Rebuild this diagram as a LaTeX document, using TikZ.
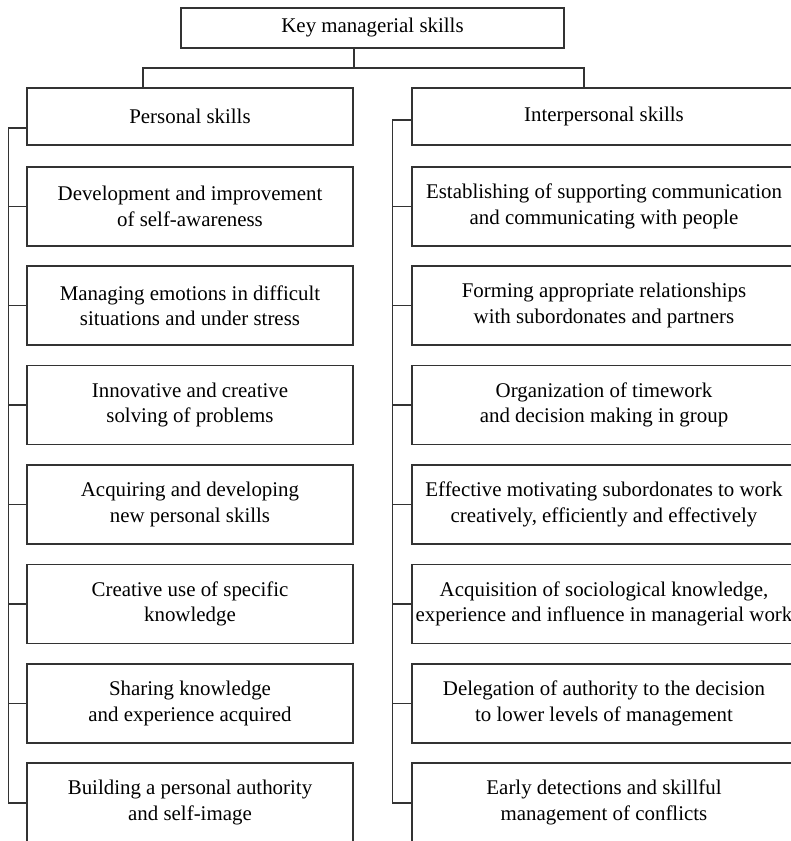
\documentclass[tikz,border=0pt]{standalone}
\usepackage{fontspec}
\setmainfont{Liberation Serif}
\begin{document}
\begin{tikzpicture}[x=1pt,y=-1pt,
  every node/.style={font=\fontsize{20.9}{25.5}\selectfont, text=black},
  box/.style={draw=black!80, line width=1.2pt, rectangle, align=center, inner sep=0pt},
  lbox/.style={box, minimum width=326pt, minimum height=79pt},
  rbox/.style={box, minimum width=384pt, minimum height=79pt},
  conn/.style={draw=black!80, line width=1.2pt}]
\useasboundingbox (0,0) rectangle (791,841);
\clip (0,0) rectangle (791,841);

\node[box, minimum width=383pt, minimum height=40pt] (top) at (372.5,28) {Key managerial skills};
\node[box, minimum width=326pt, minimum height=57pt] (ps) at (190,116.5) {Personal skills};
\node[box, minimum width=384pt, minimum height=57pt] (ip) at (604,116.5) {Interpersonal skills};

\node[lbox] (l1) at (190,206.5) {Development and improvement\\of self-awareness};
\node[lbox] (l2) at (190,305.5) {Managing emotions in difficult\\situations and under stress};
\node[lbox] (l3) at (190,405) {Innovative and creative\\solving of problems};
\node[lbox] (l4) at (190,504.5) {Acquiring and developing\\new personal skills};
\node[lbox] (l5) at (190,604) {Creative use of specific\\knowledge};
\node[lbox] (l6) at (190,703.5) {Sharing knowledge\\and experience acquired};
\node[lbox] (l7) at (190,802.5) {Building a personal authority\\and self-image};

\node[rbox] (r1) at (604,206.5) {Establishing of supporting communication\\and communicating with people};
\node[rbox] (r2) at (604,305.5) {Forming appropriate relationships\\with subordonates and partners};
\node[rbox] (r3) at (604,405) {Organization of timework\\and decision making in group};
\node[rbox] (r4) at (604,504.5) {Effective motivating subordonates to work\\creatively, efficiently and effectively};
\node[rbox] (r5) at (604,604) {Acquisition of sociological knowledge,\\experience and influence in managerial work};
\node[rbox] (r6) at (604,703.5) {Delegation of authority to the decision\\to lower levels of management};
\node[rbox] (r7) at (604,802.5) {Early detections and skillful\\management of conflicts};

% top connectors
\coordinate (j) at (354,68);
\coordinate (jl) at (143,68);
\coordinate (jr) at (584,68);
\draw[conn] (top.south -| j) -- (j);
\draw[conn] (ps.north -| jl) -- (jl) -- (jr) -- (ip.north -| jr);

% left bus
\coordinate (lbt) at (8.5,128);
\coordinate (lbb) at (8.5,803);
\draw[conn] (ps.west |- lbt) -- (lbt) -- (lbb) -- (l7.west |- lbb);
\foreach \n in {l1,l2,l3,l4,l5,l6} \draw[conn] (\n.west) -- (\n.west -| lbt);

% right bus
\coordinate (rbt) at (392.5,120);
\coordinate (rbb) at (392.5,803);
\draw[conn] (ip.west |- rbt) -- (rbt) -- (rbb) -- (r7.west |- rbb);
\foreach \n in {r1,r2,r3,r4,r5,r6} \draw[conn] (\n.west) -- (\n.west -| rbt);
\end{tikzpicture}
\end{document}
